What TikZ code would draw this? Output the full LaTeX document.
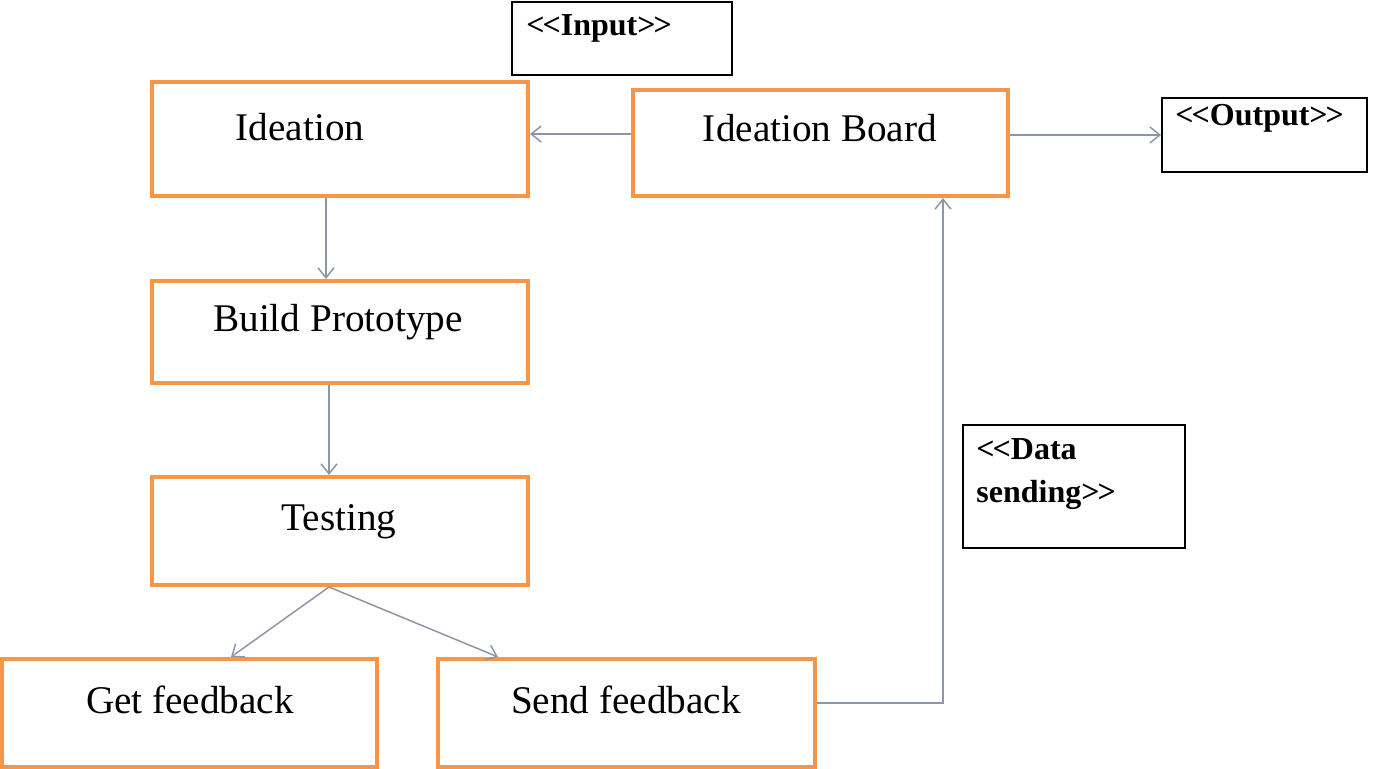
\documentclass[tikz,border=0pt]{standalone}
\usepackage{fontspec}
\setmainfont{Liberation Serif}
\usetikzlibrary{arrows.meta}
\definecolor{orng}{HTML}{F79646}
\definecolor{conn}{HTML}{8C96A8}
\newcommand{\lqq}{{<}\kern-1pt{<}}
\newcommand{\rqq}{{>}\kern-1pt{>}}
\begin{document}
\begin{tikzpicture}[x=0.5pt,y=-0.5pt,
  obox/.style={draw=orng, line width=2pt, inner sep=0pt},
  kbox/.style={draw=black, line width=0.9pt, inner sep=0pt},
  btxt/.style={anchor=base, inner sep=0pt, font=\fontsize{19.6}{24}\selectfont},
  ktxt/.style={anchor=base west, inner sep=0pt, font=\fontsize{16}{21.5}\selectfont\bfseries},
  arr/.style={draw=conn, line width=0.75pt, -{Straight Barb[length=5pt,width=8pt]}}]
\useasboundingbox (0,0) rectangle (1382,769);
% orange boxes
\node[obox, minimum width=188pt, minimum height=57pt] (ideation) at (340,139) {};
\node[obox, minimum width=187.5pt, minimum height=53pt] (board) at (820.5,143) {};
\node[obox, minimum width=188pt, minimum height=51pt] (build) at (340,332) {};
\node[obox, minimum width=188pt, minimum height=54pt] (testing) at (340,531) {};
\node[obox, minimum width=187.5pt, minimum height=54pt] (getfb) at (189.5,713) {};
\node[obox, minimum width=188.5pt, minimum height=54pt] (sendfb) at (626.5,713) {};
% box texts
\node[btxt] (ideationT) at (300,141) {Ideation};
\node[btxt] (boardT) at (820,142) {Ideation Board};
\node[btxt] (buildT) at (338,332) {Build Prototype};
\node[btxt] (testingT) at (339,531) {Testing};
\node[btxt] (getfbT) at (190,714) {Get feedback};
\node[btxt] (sendfbT) at (626,714) {Send feedback};
% black boxes
\node[kbox, minimum width=110pt, minimum height=36.5pt] (input) at (622,38.5) {};
\node[kbox, minimum width=102.5pt, minimum height=37pt] (output) at (1264.5,135) {};
\node[kbox, minimum width=111pt, minimum height=61.5pt] (data) at (1074,486.5) {};
\node[ktxt] (inputT) at (526,36) {\lqq Input\rqq};
\node[ktxt] (outputT) at (1175,126) {\lqq Output\rqq};
\node[ktxt, align=left] (dataT) at (976,503) {\lqq Data\\sending\rqq};
% connectors
\coordinate (b1) at ([yshift=4.5pt]board.west);
\draw[arr] (b1) -- (b1 -| ideation.east);
\draw[arr] ([xshift=-7pt]ideation.south) -- ([xshift=-7pt]build.north);
\draw[arr] ([xshift=-5.5pt]build.south) -- ([xshift=-5.5pt]testing.north);
\draw[arr] ([xshift=-5.5pt]testing.south) -- ([xshift=20.75pt]getfb.north);
\draw[arr] ([xshift=-5.5pt]testing.south) -- ([xshift=-64.25pt]sendfb.north);
\draw[arr] ([yshift=5pt]sendfb.east) -| ([xshift=61.25pt]board.south);
\draw[arr] ([yshift=4pt]board.east) -- (output.west);
\end{tikzpicture}
\end{document}
